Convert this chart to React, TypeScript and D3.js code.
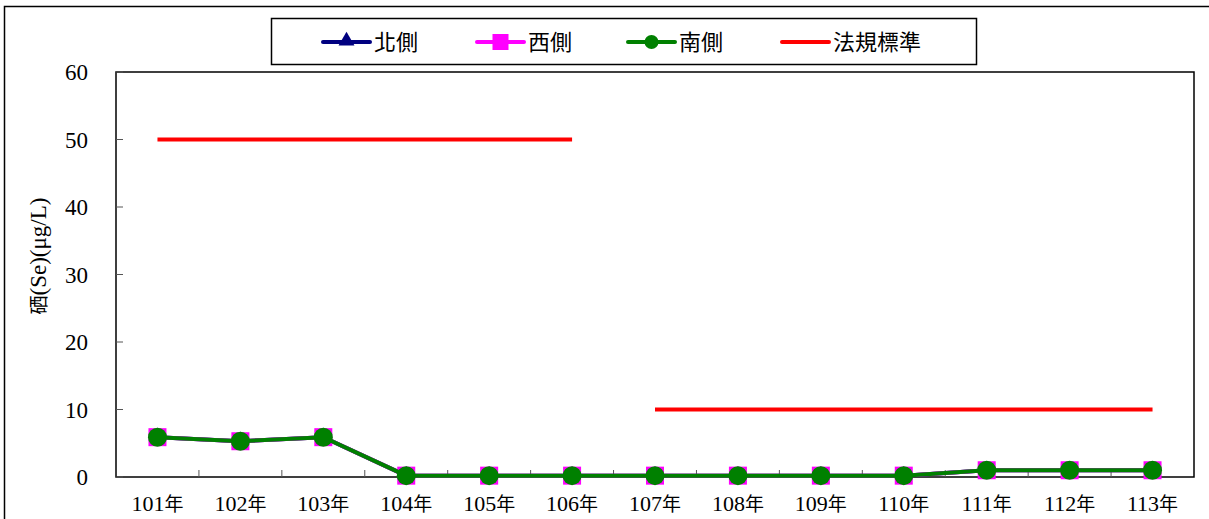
import React from 'react';
import * as d3 from 'd3';

const years = ['101年', '102年', '103年', '104年', '105年', '106年', '107年', '108年', '109年', '110年', '111年', '112年', '113年'];
const north = [5.9, 5.3, 5.9, 0.2, 0.2, 0.2, 0.2, 0.2, 0.2, 0.2, 1.0, 1.0, 1.0];
const west = [5.9, 5.3, 5.9, 0.2, 0.2, 0.2, 0.2, 0.2, 0.2, 0.2, 1.0, 1.0, 1.0];
const south = [5.9, 5.3, 5.9, 0.2, 0.2, 0.2, 0.2, 0.2, 0.2, 0.2, 1.0, 1.0, 1.0];
// regulatory standard: 50 for 101-106, 10 for 107-113
const standardSplit = [
  { from: 0, to: 5, value: 50 },
  { from: 6, to: 12, value: 10 }
];
const yTicks = [0, 10, 20, 30, 40, 50, 60];

const serif = 'Liberation Serif';
const cjk = 'Noto Sans CJK TC';

const margin = { top: 72, left: 116, right: 1194, bottom: 477 };
const x = d3.scaleBand().domain(years).range([margin.left, margin.right]);
const cx = (i) => x(years[i]) + x.bandwidth() / 2;
const y = d3.scaleLinear().domain([0, 60]).range([margin.bottom, margin.top]);
const line = d3.line().x((d, i) => cx(i)).y(d => y(d));
const tri = d3.symbol().type(d3.symbolTriangle).size(120)();
const triSmall = d3.symbol().type(d3.symbolTriangle).size(110)();

const legendItems = [
  { name: '北側', color: '#000080', x: 323, marker: 'tri' },
  { name: '西側', color: '#ff00ff', x: 477, marker: 'sq' },
  { name: '南側', color: '#008000', x: 628, marker: 'ci' },
  { name: '法規標準', color: '#ff0000', x: 782, marker: null }
];

const App = () => {
  const ly = 42;
  return (
    <div style={{ position: 'absolute', left: 0, top: 0 }}>
      <svg width={1209} height={519} style={{ display: 'block' }}>
        {/* outer frame, runs off the right / bottom edge */}
        <rect x={4.5} y={6.5} width={1220} height={530} fill="white" stroke="#000" strokeWidth={1.5} />

        <rect x={margin.left} y={margin.top} width={margin.right - margin.left} height={margin.bottom - margin.top}
          fill="white" stroke="#000" strokeWidth={1.5} />

        {/* y axis */}
        {yTicks.map(t => (
          <g key={t}>
            <line x1={margin.left} x2={margin.left + 7} y1={y(t)} y2={y(t)} stroke="#555" strokeWidth={1} />
            <text x={88} y={y(t) + 8} textAnchor="end" fontFamily={serif} fontSize={23}>{t}</text>
          </g>
        ))}

        {/* x axis */}
        {years.map((yr, i) => (
          <g key={yr}>
            {i > 0 && <line x1={x(yr)} x2={x(yr)} y1={margin.bottom} y2={margin.bottom - 7} stroke="#555" strokeWidth={1} />}
            <text x={cx(i)} y={511} textAnchor="middle" fontFamily={serif} fontSize={22}>
              <tspan>{yr.slice(0, 3)}</tspan>
              <tspan fontFamily={cjk} fontSize={19}>{yr.slice(3)}</tspan>
            </text>
          </g>
        ))}

        <text transform={`translate(46,256) rotate(-90)`}
          textAnchor="middle" fontFamily={serif} fontSize={23}>
          <tspan fontFamily={cjk} fontSize={19}>硒</tspan>
          <tspan>(Se)(μg/L)</tspan>
        </text>

        {/* regulatory standard */}
        {standardSplit.map((s, k) => (
          <line key={k} x1={cx(s.from)} x2={cx(s.to)} y1={y(s.value)} y2={y(s.value)} stroke="#ff0000" strokeWidth={4} />
        ))}

        {/* north */}
        <path d={line(north)} fill="none" stroke="#000080" strokeWidth={4} />
        {north.map((d, i) => <path key={i} d={tri} transform={`translate(${cx(i)},${y(d)})`} fill="#000080" />)}

        {/* west */}
        <path d={line(west)} fill="none" stroke="#ff00ff" strokeWidth={4} />
        {west.map((d, i) => <rect key={i} x={cx(i) - 9} y={y(d) - 9} width={18} height={18} fill="#ff00ff" />)}

        {/* south */}
        <path d={line(south)} fill="none" stroke="#008000" strokeWidth={4} />
        {south.map((d, i) => <circle key={i} cx={cx(i)} cy={y(d)} r={9.5} fill="#008000" />)}

        {/* legend */}
        <rect x={271.5} y={18.5} width={705} height={46} fill="white" stroke="#000" strokeWidth={1.5} />
        {legendItems.map(it => {
          const mx = it.x + 23.5;
          return (
            <g key={it.name}>
              <line x1={it.x} x2={it.x + 47} y1={ly} y2={ly} stroke={it.color} strokeWidth={4} strokeLinecap="round" />
              {it.marker === 'tri' && <path d={triSmall} transform={`translate(${mx},${ly - 1})`} fill={it.color} />}
              {it.marker === 'sq' && <rect x={mx - 8} y={ly - 8} width={16} height={16} fill={it.color} />}
              {it.marker === 'ci' && <circle cx={mx} cy={ly} r={7} fill={it.color} />}
              <text x={it.x + 51} y={ly + 8} fontFamily={cjk} fontSize={22}>{it.name}</text>
            </g>
          );
        })}
      </svg>
    </div>
  );
};

export default App;
